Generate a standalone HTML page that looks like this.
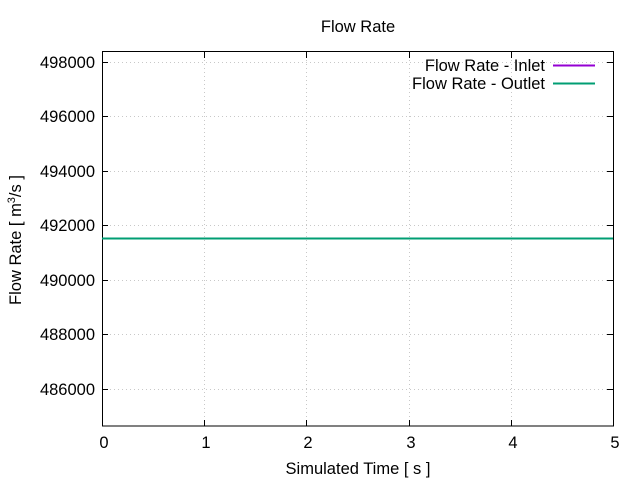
<!DOCTYPE html>
<html><head><meta charset="utf-8"><style>body{margin:0;background:#fff}svg{display:block}text{font-family:"Liberation Sans",sans-serif;fill:#000}</style></head><body>
<svg width="640" height="480" viewBox="0 0 640 480" xmlns="http://www.w3.org/2000/svg">
<rect width="640" height="480" fill="#fff"/>
<g stroke="#c8c8c8" stroke-width="1" stroke-dasharray="1,3">
<line x1="102" y1="62.5" x2="613" y2="62.5"/>
<line x1="102" y1="116.5" x2="613" y2="116.5"/>
<line x1="102" y1="171.5" x2="613" y2="171.5"/>
<line x1="102" y1="225.5" x2="613" y2="225.5"/>
<line x1="102" y1="280.5" x2="613" y2="280.5"/>
<line x1="102" y1="334.5" x2="613" y2="334.5"/>
<line x1="102" y1="389.5" x2="613" y2="389.5"/>
<line x1="204.5" y1="52" x2="204.5" y2="426"/>
<line x1="306.5" y1="52" x2="306.5" y2="426"/>
<line x1="409.5" y1="52" x2="409.5" y2="426"/>
<line x1="511.5" y1="52" x2="511.5" y2="426"/>
</g>
<g stroke="#000" stroke-width="1">
<rect x="102.5" y="51.5" width="511" height="374.5" fill="none"/>
<path d="M102 62.5h6M102 116.5h6M102 171.5h6M102 225.5h6M102 280.5h6M102 334.5h6M102 389.5h6M613 62.5h-6M613 116.5h-6M613 171.5h-6M613 225.5h-6M613 280.5h-6M613 334.5h-6M613 389.5h-6M204.5 426v-6M306.5 426v-6M409.5 426v-6M511.5 426v-6M204.5 52v6M306.5 52v6M409.5 52v6M511.5 52v6"/>
</g>
<line x1="102" y1="238.5" x2="613" y2="238.5" stroke="#9400d3" stroke-width="2"/>
<line x1="102" y1="238.5" x2="613" y2="238.5" stroke="#009e73" stroke-width="2"/>
<g font-size="16.5" text-anchor="end">
<text x="95" y="68">498000</text>
<text x="95" y="122">496000</text>
<text x="95" y="177">494000</text>
<text x="95" y="231">492000</text>
<text x="95" y="286">490000</text>
<text x="95" y="340">488000</text>
<text x="95" y="395">486000</text>
</g>
<g font-size="16.5" text-anchor="middle">
<text x="104" y="448">0</text>
<text x="206" y="448">1</text>
<text x="308" y="448">2</text>
<text x="411" y="448">3</text>
<text x="513" y="448">4</text>
<text x="615" y="448">5</text>
<text x="358" y="474">Simulated Time [ s ]</text>
<text x="358" y="32">Flow Rate</text>
</g>
<text font-size="16.5" transform="translate(21,240) rotate(-90)" text-anchor="middle">Flow Rate [ m<tspan font-size="11" dy="-6">3</tspan><tspan dy="6">/s ]</tspan></text>
<g font-size="16.5" text-anchor="end">
<text x="545" y="71">Flow Rate - Inlet</text>
<text x="545" y="89">Flow Rate - Outlet</text>
</g>
<line x1="553" y1="65.5" x2="595" y2="65.5" stroke="#9400d3" stroke-width="2"/>
<line x1="553" y1="83.5" x2="595" y2="83.5" stroke="#009e73" stroke-width="2"/>
</svg>
</body></html>
